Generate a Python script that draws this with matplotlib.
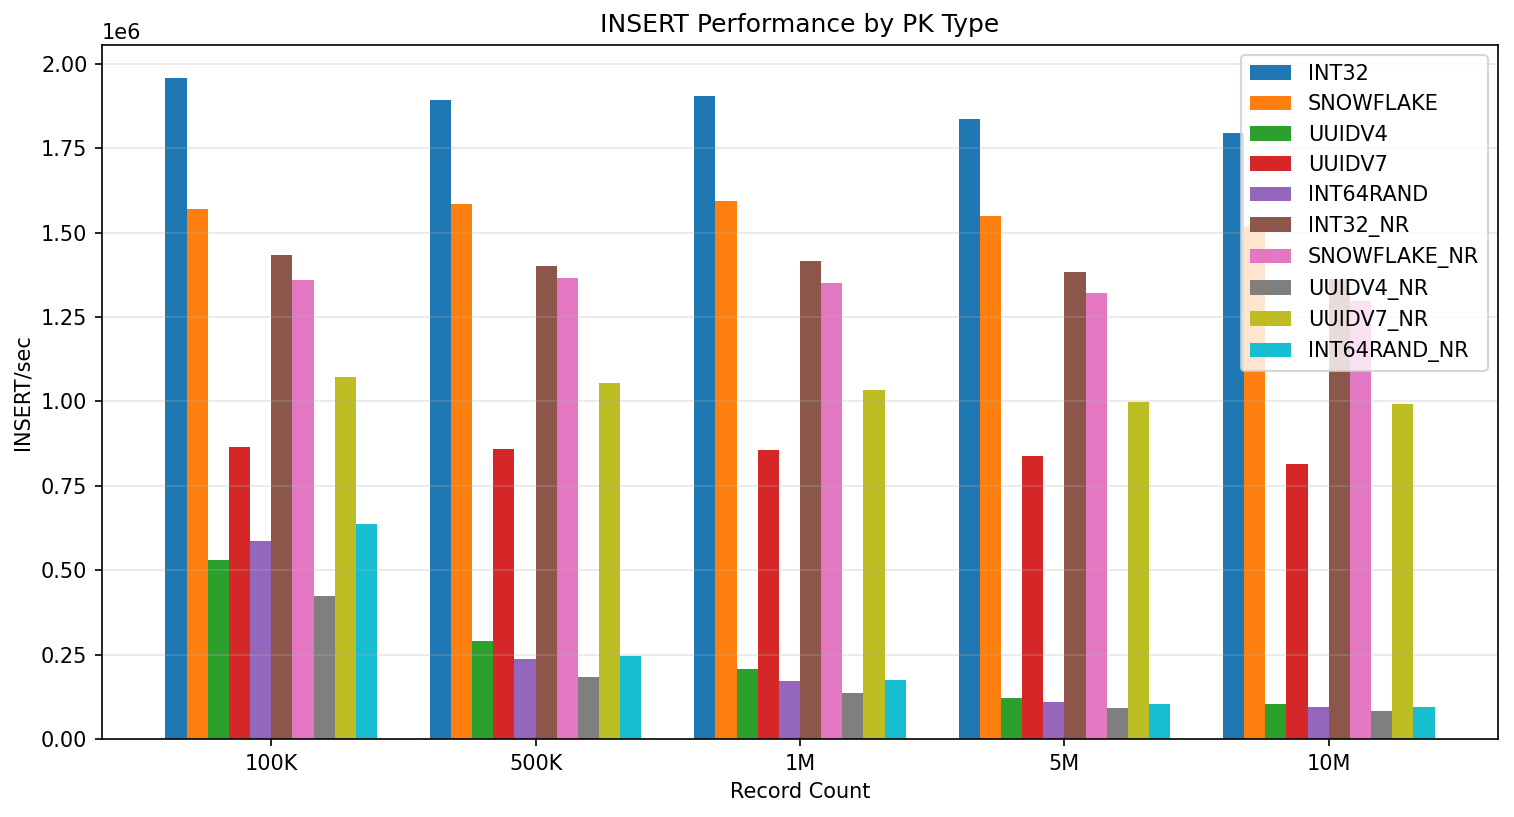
import numpy as np
import matplotlib
matplotlib.use('Agg')
import matplotlib.pyplot as plt

# datos (INSERT/sec)
record_counts = ['100K', '500K', '1M', '5M', '10M']
pk_types = ['INT32', 'SNOWFLAKE', 'UUIDV4', 'UUIDV7', 'INT64RAND',
            'INT32_NR', 'SNOWFLAKE_NR', 'UUIDV4_NR', 'UUIDV7_NR', 'INT64RAND_NR']

int32 = [1958000, 1893000, 1905000, 1837000, 1795000]
snowflake = [1570000, 1585000, 1593000, 1549000, 1516000]
uuidv4 = [531000, 291000, 208000, 122000, 104000]
uuidv7 = [866000, 858000, 855000, 837000, 816000]
int64rand = [585000, 237000, 172000, 110000, 95000]
int32_nr = [1433000, 1401000, 1415000, 1383000, 1362000]
snowflake_nr = [1359000, 1365000, 1350000, 1320000, 1297000]
uuidv4_nr = [424000, 184000, 136000, 92000, 83000]
uuidv7_nr = [1071000, 1053000, 1033000, 997000, 991000]
int64rand_nr = [638000, 246000, 175000, 104000, 95000]

series = [int32, snowflake, uuidv4, uuidv7, int64rand,
          int32_nr, snowflake_nr, uuidv4_nr, uuidv7_nr, int64rand_nr]

#%% grafico
fig, ax = plt.subplots(figsize=(1514 / 150, 817 / 150), dpi=150)
fig.subplots_adjust(left=0.0674, right=0.9894, top=0.945, bottom=0.0955)

x = np.arange(len(record_counts))
width = 0.08
for i, (name, vals) in enumerate(zip(pk_types, series)):
    offset = (i - (len(pk_types) - 1) / 2) * width
    ax.bar(x + offset, vals, width, label=name)

ax.set_title('INSERT Performance by PK Type')
ax.set_xlabel('Record Count')
ax.set_ylabel('INSERT/sec')
ax.set_xticks(x)
ax.set_xticklabels(record_counts)
ax.grid(axis='y', alpha=0.3)
ax.legend(loc='upper right')

plt.savefig('out.png')
